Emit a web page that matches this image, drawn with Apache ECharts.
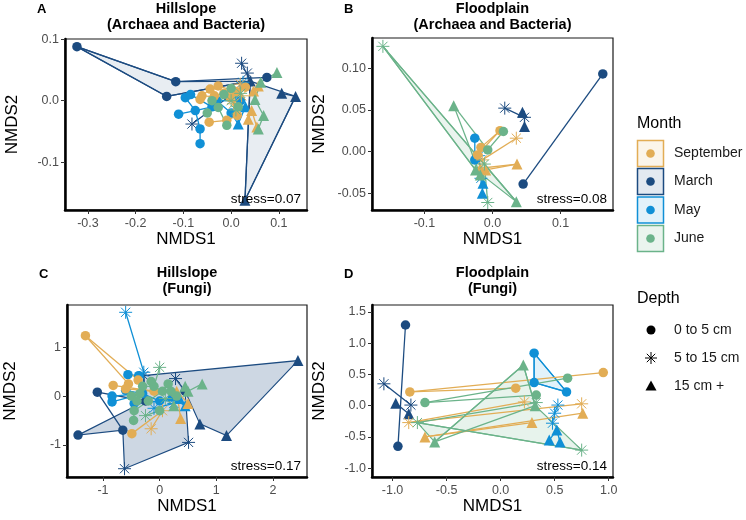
<!DOCTYPE html>
<html><head><meta charset="utf-8">
<script src="https://cdn.jsdelivr.net/npm/echarts@6/dist/echarts.min.js"></script>
<style>html,body{margin:0;padding:0;background:#fff}#c{width:746px;height:520px}</style>
</head><body><div id="c"></div>
<script>
// ---------------- DATA ----------------
const MONTHS = ['September', 'March', 'May', 'June'];
const DEPTHS = ['0 to 5 cm', '5 to 15 cm', '15 cm +'];   // depth code 0,1,2
const STRESS = ['stress=0.07', 'stress=0.08', 'stress=0.17', 'stress=0.14'];

// Panel A: Hillslope (Archaea and Bacteria)  [NMDS1, NMDS2, depth]
const A_XTICKS = [-0.3, -0.2, -0.1, 0, 0.1];
const A_YTICKS = [-0.1, 0, 0.1];
const A_SEP = [[-0.061,0.008,0],[-0.044,0.019,0],[-0.027,0.024,0],[-0.046,-0.035,0],[-0.009,-0.032,0],[0.013,-0.024,0],[-0.002,0.005,0],[-0.065,0.002,0],[0.010,0.015,0],[0.030,0.022,0],[-0.015,0.012,0],[-0.035,0.008,0],
  [0.019,0.027,1],[0.005,-0.005,1],[0.022,0.008,1],
  [0.043,-0.016,2],[0.054,-0.043,2],[0.047,0.016,2],[0.057,0.024,2],[0.036,-0.030,2]];
const A_SEP_PATHS = [[7,0,1,2],[3,4,5],[6,10,8,9],[0,6],[11,10],[12,13,14],[15,16],[17,18],[19,15],[2,8]];
const A_MAR = [[-0.323,0.088,0],[-0.116,0.031,0],[-0.135,0.007,0],[0.075,0.038,0],
  [0.022,0.061,1],[0.034,0.045,1],[-0.082,-0.038,1],
  [0.106,0.012,2],[0.135,0.007,2],[0.029,-0.162,2],[0.040,0.032,2]];
const A_MAR_PATHS = [[0,1,3],[0,2,10],[4,10],[5,10],[6,10],[7,8],[8,9],[9,10]];
const A_MAR_HULL = [0,1,10,8,9,10,2];
const A_MAY = [[-0.110,-0.022,0],[-0.096,0.005,0],[-0.075,-0.016,0],[-0.065,-0.046,0],[-0.065,-0.070,0],[-0.085,0.010,0],[-0.030,0.000,0],[0.000,-0.020,0],[0.020,0.000,0],[-0.040,-0.010,0],
  [0.010,0.010,1],[0.025,0.030,1],
  [0.015,-0.038,2],[0.030,-0.010,2]];
const A_MAY_PATHS = [[1,2,3,4],[0,2,9,6,7],[5,9],[6,8],[10,11],[12,13],[7,12]];
const A_JUN = [[-0.027,-0.011,0],[-0.040,0.000,0],[-0.009,-0.040,0],[0.000,0.020,0],[0.015,-0.010,0],[-0.015,0.010,0],[-0.050,-0.020,0],
  [0.000,0.000,1],[0.020,0.012,1],[0.010,-0.015,1],
  [0.096,0.046,2],[0.057,-0.046,2],[0.068,-0.024,2],[0.062,0.030,2],[0.050,0.002,2]];
const A_JUN_PATHS = [[1,0,2],[6,0,5,3],[4,5],[7,8,9],[10,13,14,12,11]];

// Panel B: Floodplain (Archaea and Bacteria)
const B_XTICKS = [-0.1, 0, 0.1];
const B_YTICKS = [-0.05, 0, 0.05, 0.10];
const B_SEP = [[0.011,0.025,0],[-0.017,0.005,0],[-0.022,-0.004,0],[0.035,0.016,1],[0.036,-0.015,2],[-0.010,-0.022,2],[-0.015,-0.010,1],[-0.018,-0.020,2]];
const B_SEP_PATHS = [[1,0],[2,0],[6,3],[5,4],[7,4]];
const B_MAR = [[0.018,0.052,1],[0.044,0.047,2],[0.047,0.041,1],[0.047,0.030,2],[0.045,-0.039,0],[0.162,0.093,0]];
const B_MAR_PATHS = [[0,2,3],[1,2],[4,5]];
const B_MAY = [[-0.026,0.016,0],[-0.026,-0.010,0],[-0.017,-0.032,1],[-0.014,-0.038,2],[-0.015,-0.050,2],[-0.020,-0.005,1]];
const B_MAY_PATHS = [[0,1],[2,3,4],[5,2]];
const B_JUN = [[-0.161,0.126,1],[-0.057,0.055,2],[0.035,-0.060,2],[-0.007,-0.061,1],[-0.007,0.002,0],[0.016,0.024,0],[-0.025,-0.022,2],[-0.012,-0.015,1],[-0.018,-0.028,2]];
const B_JUN_PATHS = [[0,6],[0,2],[1,4],[1,8],[3,7],[4,5],[2,7]];
const B_JUN_HULL = [0,7,2,6];

// Panel C: Hillslope (Fungi)
const C_XTICKS = [-1, 0, 1, 2];
const C_YTICKS = [-1, 0, 1];
const C_SEP = [[-1.31,1.24,0],[-0.82,0.22,0],[-0.49,-0.77,0],[-0.15,-0.67,1],[0.37,-0.46,2],[-0.55,0.25,0],[-0.38,0.33,0],[-0.10,0.10,0],[0.50,-0.15,2],[0.05,-0.30,1],[0.30,0.10,2],[-0.60,0.15,0]];
const C_SEP_PATHS = [[0,6],[0,5],[1,7],[11,7],[2,9],[3,9],[4,10],[8,10]];
const C_MAR = [[-1.44,-0.80,0],[-1.10,0.08,0],[-0.65,-0.70,0],[-0.62,-1.49,1],[0.51,-0.95,1],[2.44,0.73,2],[1.18,-0.81,2],[0.71,-0.57,2],[0.28,0.36,1],[0.45,0.10,0],[-0.28,0.42,1],[-0.25,-0.10,0]];
const C_MAR_PATHS = [[1,2],[1,11],[8,9]];
const C_MAR_HULL = [0,11,10,5,6,7,9,4,3,2];
const C_MAY = [[-0.60,1.72,1],[-0.28,0.49,1],[-0.56,0.44,0],[-0.37,0.42,0],[-0.84,-0.12,0],[-0.84,0.00,0],[-0.30,0.05,0],[0.00,-0.10,0],[0.35,-0.05,2],[0.45,-0.20,2],[-0.10,-0.25,1],[-0.60,0.12,0],[0.20,0.00,2],[0.25,-0.15,1],[-0.45,-0.15,0]];
const C_MAY_PATHS = [[0,1,6],[2,3,6],[4,6],[5,6],[11,6],[14,7],[6,7,8],[9,12],[10,13]];
const C_JUN = [[0.00,0.59,1],[0.75,0.25,2],[-0.46,-0.50,0],[-0.30,0.20,0],[-0.10,0.20,0],[0.05,0.10,0],[-0.20,-0.10,0],[-0.45,-0.30,0],[0.15,0.25,0],[0.30,0.00,0],[0.45,0.20,2],[0.25,-0.20,2],[0.10,-0.05,1],[-0.35,0.05,0],[-0.50,0.00,0],[0.50,0.10,2],[-0.25,-0.40,1],[0.00,-0.30,0],[-0.15,0.30,0],[-0.40,-0.10,0],[0.20,0.10,0]];
const C_JUN_PATHS = [[0,4],[2,7,6,5],[3,4,5,8],[13,6],[14,13],[1,15,10,9],[11,12],[16,17],[18,4],[19,6],[20,5]];

// Panel D: Floodplain (Fungi)
const D_XTICKS = [-1.0, -0.5, 0.0, 0.5, 1.0];
const D_YTICKS = [-1.0, -0.5, 0.0, 0.5, 1.0, 1.5];
const D_SEP = [[-0.84,0.22,0],[0.14,0.28,0],[0.95,0.53,0],[-0.85,-0.27,1],[0.22,0.06,1],[0.75,0.03,1],[-0.70,-0.50,2],[0.29,-0.27,2],[0.76,-0.12,2]];
const D_SEP_PATHS = [[0,1],[0,2],[3,4],[3,5],[6,7],[6,8]];
const D_MAR = [[-0.88,1.29,0],[-0.95,-0.65,0],[-1.08,0.35,1],[-0.97,0.04,2],[-0.83,0.01,1],[-0.85,-0.13,2]];
const D_MAR_PATHS = [[0,1],[2,4],[3,5]];
const D_MAY = [[0.31,0.84,0],[0.31,0.37,0],[0.61,0.22,0],[0.53,0.01,1],[0.50,-0.12,1],[0.48,-0.28,1],[0.52,-0.39,2],[0.45,-0.55,2],[0.55,-0.58,2]];
const D_MAY_PATHS = [[0,1,2,0],[3,4,5],[6,7],[6,8]];
const D_MAY_HULL = [0,1,2];
const D_JUN = [[-0.70,0.05,0],[0.33,0.17,0],[0.62,0.44,0],[-0.77,-0.27,1],[0.75,-0.71,1],[0.33,0.05,1],[0.21,0.65,2],[-0.61,-0.58,2],[0.32,0.00,2]];
const D_JUN_PATHS = [[0,1],[0,2],[3,4],[3,5],[7,6],[6,8],[8,7]];
const D_JUN_HULL = [7,6,8,4,3];

// ---------------- STYLE / LAYOUT ----------------
const FONT = '"Liberation Sans", Arial, Helvetica, sans-serif';
const COLORS = {September:'#E2AD55', March:'#1C4B80', May:'#1090D6', June:'#6BB38A'};
const FILLS = {September:'rgba(226,173,85,0.12)', March:'rgba(28,75,128,0.12)', May:'rgba(16,144,214,0.12)', June:'rgba(107,179,138,0.14)'};
const SYM = {0:'circle', 1:'path://M0,-10L0,10M-10,0L10,0M-7.07,-7.07L7.07,7.07M-7.07,7.07L7.07,-7.07', 2:'triangle'};
const SYMSIZE = {0:9.5, 1:13, 2:11};
const DRAW_ORDER = ['March', 'May', 'September', 'June'];

const panels = [
  {letter:'A', title:'Hillslope\n(Archaea and Bacteria)', grid:{left:65, top:39, width:242, height:171},
   x:[-0.348,0.159], y:[-0.178,0.1005], xt:A_XTICKS, yt:A_YTICKS, xd:1, yd:1, yGap:44,
   m:{September:[A_SEP,A_SEP_PATHS], March:[A_MAR,A_MAR_PATHS,A_MAR_HULL], May:[A_MAY,A_MAY_PATHS], June:[A_JUN,A_JUN_PATHS]}},
  {letter:'B', title:'Floodplain\n(Archaea and Bacteria)', grid:{left:372, top:38, width:241, height:172},
   x:[-0.177,0.177], y:[-0.070,0.136], xt:B_XTICKS, yt:B_YTICKS, xd:1, yd:2, yGap:44,
   m:{September:[B_SEP,B_SEP_PATHS], March:[B_MAR,B_MAR_PATHS], May:[B_MAY,B_MAY_PATHS], June:[B_JUN,B_JUN_PATHS,B_JUN_HULL]}},
  {letter:'C', title:'Hillslope\n(Fungi)', grid:{left:67, top:305, width:240, height:172},
   x:[-1.635,2.6], y:[-1.66,1.87], xt:C_XTICKS, yt:C_YTICKS, xd:0, yd:0, yGap:48,
   m:{September:[C_SEP,C_SEP_PATHS], March:[C_MAR,C_MAR_PATHS,C_MAR_HULL], May:[C_MAY,C_MAY_PATHS], June:[C_JUN,C_JUN_PATHS]}},
  {letter:'D', title:'Floodplain\n(Fungi)', grid:{left:372, top:305, width:241, height:172},
   x:[-1.19,1.04], y:[-1.14,1.61], xt:D_XTICKS, yt:D_YTICKS, xd:1, yd:1, yGap:44,
   m:{September:[D_SEP,D_SEP_PATHS], March:[D_MAR,D_MAR_PATHS], May:[D_MAY,D_MAY_PATHS,D_MAY_HULL], June:[D_JUN,D_JUN_PATHS,D_JUN_HULL]}}
];
const HULL_FILL = {A:{March:'rgba(28,75,128,0.10)'}, B:{June:'rgba(107,179,138,0.14)'}, C:{March:'rgba(28,75,128,0.22)'}, D:{May:'rgba(16,144,214,0.12)', June:'rgba(107,179,138,0.16)'}};

// ---------------- BUILD ----------------
const option = {animation:false, backgroundColor:'#ffffff', grid:[], xAxis:[], yAxis:[], series:[], graphic:[]};

panels.forEach((p, gi) => {
  option.grid.push(Object.assign({show:true, borderColor:'#1a1a1a', borderWidth:1.2, backgroundColor:'transparent'}, p.grid));
  option.xAxis.push({gridIndex:gi, type:'value', min:p.x[0], max:p.x[1],
    name:'NMDS1', nameLocation:'middle', nameGap:20,
    nameTextStyle:{fontSize:17, color:'#000', fontFamily:FONT},
    axisLine:{show:true, onZero:false, lineStyle:{color:'#000', width:2.5}},
    axisTick:{show:true, length:4, customValues:p.xt, lineStyle:{color:'#333', width:1}},
    axisLabel:{customValues:p.xt, formatter:v => Number(v).toFixed(p.xd), color:'#4D4D4D', fontSize:12.5, margin:7, fontFamily:FONT},
    splitLine:{show:false}});
  option.yAxis.push({gridIndex:gi, type:'value', min:p.y[0], max:p.y[1],
    name:'NMDS2', nameLocation:'middle', nameGap:p.yGap,
    nameTextStyle:{fontSize:17, color:'#000', fontFamily:FONT},
    axisLine:{show:true, onZero:false, lineStyle:{color:'#000', width:2.5}},
    axisTick:{show:true, length:4, customValues:p.yt, lineStyle:{color:'#333', width:1}},
    axisLabel:{customValues:p.yt, formatter:v => Number(v).toFixed(p.yd), color:'#4D4D4D', fontSize:12.5, margin:6, fontFamily:FONT},
    splitLine:{show:false}});

  // hulls
  DRAW_ORDER.forEach(month => {
    const d = p.m[month];
    if (!d || !d[2]) return;
    const pts = d[0], hull = d[2];
    option.series.push({type:'custom', xAxisIndex:gi, yAxisIndex:gi, z:1, silent:true, clip:true,
      data:[[pts[hull[0]][0], pts[hull[0]][1]]],
      renderItem:(params, api) => ({type:'polygon',
        shape:{points: hull.map(i => api.coord([pts[i][0], pts[i][1]]))},
        style:{fill:HULL_FILL[p.letter][month], stroke:COLORS[month], lineWidth:1.2}})});
  });
  // paths
  DRAW_ORDER.forEach(month => {
    const d = p.m[month];
    const pts = d[0], paths = d[1];
    option.series.push({type:'custom', xAxisIndex:gi, yAxisIndex:gi, z:2, silent:true, clip:true,
      data: paths.map(pa => [pts[pa[0]][0], pts[pa[0]][1]]),
      renderItem:(params, api) => {
        const pa = paths[params.dataIndex];
        return {type:'polyline', shape:{points: pa.map(i => api.coord([pts[i][0], pts[i][1]]))},
          style:{stroke:COLORS[month], lineWidth:1.3, fill:'none'}};
      }});
  });
  // points
  DRAW_ORDER.forEach(month => {
    const pts = p.m[month][0];
    [0, 1, 2].forEach(dep => {
      const sel = pts.filter(q => q[2] === dep).map(q => [q[0], q[1]]);
      if (!sel.length) return;
      option.series.push({type:'scatter', xAxisIndex:gi, yAxisIndex:gi, z:3, silent:true,
        symbol:SYM[dep], symbolSize:SYMSIZE[dep], data:sel,
        itemStyle: dep === 1 ? {color:COLORS[month], borderColor:COLORS[month], borderWidth:1, opacity:1}
                             : {color:COLORS[month], borderWidth:0, opacity:1}});
    });
  });

  // texts: letter, title, stress
  const g = p.grid;
  option.graphic.push({type:'text', left:g.left - 28, top:(gi < 2 ? 3 : 268), z:10,
    style:{text:p.letter, font:'bold 13px ' + FONT, fill:'#000'}});
  option.graphic.push({type:'text', x:g.left + g.width / 2, y:(gi < 2 ? 17 : 281), z:10,
    style:{text:p.title, font:'bold 14.5px ' + FONT, fill:'#000', align:'center', verticalAlign:'middle', lineHeight:16}});
  option.graphic.push({type:'text', x:g.left + g.width - 6, y:g.top + g.height - 4, z:10,
    style:{text:STRESS[gi], font:'13.5px ' + FONT, fill:'#000', align:'right', verticalAlign:'bottom'}});
});

// legends
option.graphic.push({type:'text', x:637, y:124, style:{text:'Month', font:'16px ' + FONT, fill:'#000', verticalAlign:'middle'}});
MONTHS.forEach((m, i) => {
  const cy = [153.5, 181.5, 210, 238.5][i];
  option.graphic.push({type:'rect', shape:{x:637.5, y:cy - 13, width:26, height:26},
    style:{fill:FILLS[m], stroke:COLORS[m], lineWidth:1.5}});
  option.graphic.push({type:'circle', shape:{cx:650.5, cy:cy, r:4.3}, style:{fill:COLORS[m]}});
  option.graphic.push({type:'text', x:674, y:cy, style:{text:m, font:'14px ' + FONT, fill:'#1a1a1a', verticalAlign:'middle'}});
});
option.graphic.push({type:'text', x:637, y:299, style:{text:'Depth', font:'16px ' + FONT, fill:'#000', verticalAlign:'middle'}});
DEPTHS.forEach((d, i) => {
  const cy = [330, 358, 386][i];
  let sym;
  if (i === 0) sym = {type:'circle', shape:{cx:651, cy:cy, r:4.5}, style:{fill:'#000'}};
  else if (i === 1) sym = {type:'polyline', shape:{points:[[651,cy-6],[651,cy+6]]}, style:{stroke:'#000', lineWidth:1}};
  else sym = {type:'polygon', shape:{points:[[651,cy-5.5],[656.5,cy+4.5],[645.5,cy+4.5]]}, style:{fill:'#000'}};
  option.graphic.push(sym);
  if (i === 1) {
    option.graphic.push({type:'polyline', shape:{points:[[645,cy],[657,cy]]}, style:{stroke:'#000', lineWidth:1}});
    option.graphic.push({type:'polyline', shape:{points:[[646.8,cy-4.2],[655.2,cy+4.2]]}, style:{stroke:'#000', lineWidth:1}});
    option.graphic.push({type:'polyline', shape:{points:[[646.8,cy+4.2],[655.2,cy-4.2]]}, style:{stroke:'#000', lineWidth:1}});
  }
  option.graphic.push({type:'text', x:674, y:cy, style:{text:d, font:'14px ' + FONT, fill:'#1a1a1a', verticalAlign:'middle'}});
});

const chart = echarts.init(document.getElementById('c'), null, {renderer:'canvas'});
chart.setOption(option);
</script>
</body></html>
